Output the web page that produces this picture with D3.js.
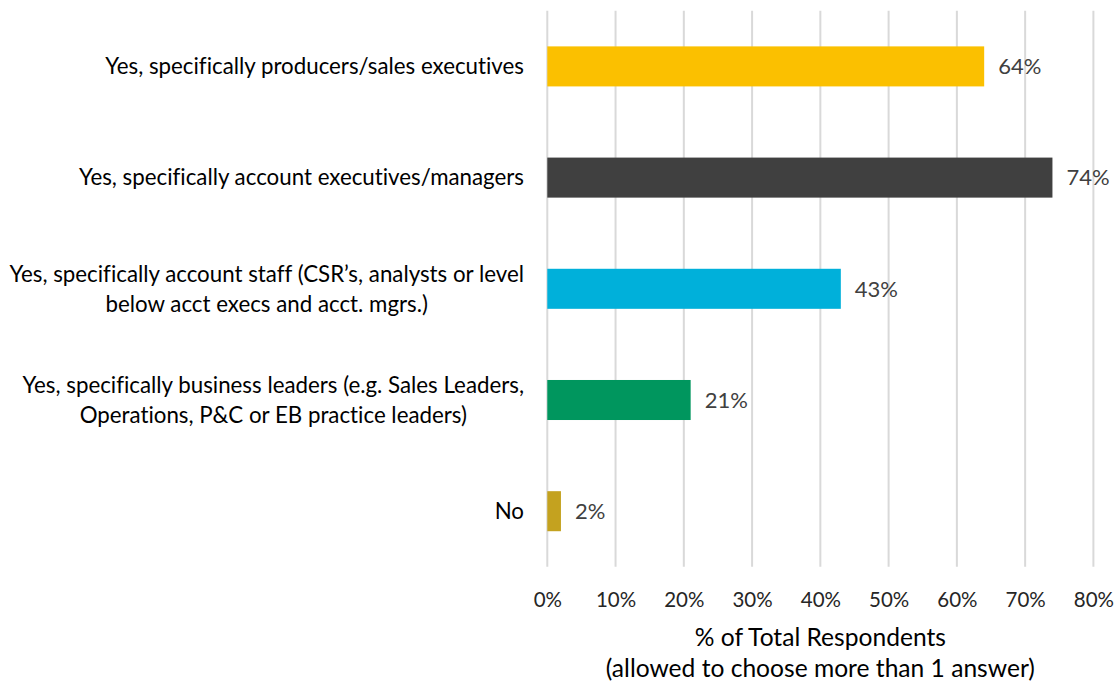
<!DOCTYPE html>
<html>
<head>
<meta charset="utf-8">
<script src="https://cdn.jsdelivr.net/npm/d3@7/dist/d3.min.js"></script>
<style>
  html, body { margin: 0; padding: 0; background: #fff; }
  svg { display: block; font-family: Lato, "Open Sans", sans-serif; font-variant-ligatures: none; }
</style>
</head>
<body>
<svg id="chart" width="1118" height="685"></svg>
<script>
// Survey answers, top to bottom
const categories = [
  ["Yes, specifically producers/sales executives"],
  ["Yes, specifically account executives/managers"],
  ["Yes, specifically account staff (CSR\u2019s, analysts or level", "below acct execs and acct. mgrs.)"],
  ["Yes, specifically business leaders (e.g. Sales Leaders,", "Operations, P&C or EB practice leaders)"],
  ["No"]
];
const values = [64, 74, 43, 21, 2];
const barColors = ["#FBC000", "#404040", "#00B0DA", "#00965E", "#C4A21F"];
const tickValues = [0, 10, 20, 30, 40, 50, 60, 70, 80];
const axisTitle = ["% of Total Respondents", "(allowed to choose more than 1 answer)"];

const svg = d3.select("#chart");
const plot = { left: 547.3, right: 1093.4, top: 10.8, bottom: 566.8 };

const x = d3.scaleLinear().domain([0, 80]).range([plot.left, plot.right]);
const y = d3.scaleBand()
  .domain(d3.range(values.length))
  .range([plot.top, plot.bottom])
  .paddingInner(0.64)
  .paddingOuter(0.32);

// Vertical gridlines
svg.append("g")
  .selectAll("line")
  .data(tickValues)
  .join("line")
  .attr("x1", d => x(d)).attr("x2", d => x(d))
  .attr("y1", plot.top).attr("y2", plot.bottom)
  .attr("stroke", "#D9D9D9")
  .attr("stroke-width", 2);

// Bars
svg.append("g")
  .selectAll("rect")
  .data(values)
  .join("rect")
  .attr("x", x(0))
  .attr("y", (d, i) => y(i))
  .attr("width", d => x(d) - x(0))
  .attr("height", y.bandwidth())
  .attr("fill", (d, i) => barColors[i]);

// Value labels
svg.append("g")
  .selectAll("text")
  .data(values)
  .join("text")
  .attr("x", d => x(d) + 14)
  .attr("y", (d, i) => y(i) + y.bandwidth() / 2)
  .attr("dy", "0.35em")
  .attr("font-size", 22)
  .attr("fill", "#404040")
  .text(d => d + "%");

// Category labels: each block centred on itself, right edge at 524
const catG = svg.append("g");
const lineH = 30;
categories.forEach((lines, i) => {
  const g = catG.append("g");
  const cy = y(i) + y.bandwidth() / 2;
  const texts = lines.map((t, k) =>
    g.append("text")
      .attr("y", cy + (k - (lines.length - 1) / 2) * lineH)
      .attr("dy", "0.35em")
      .attr("font-size", 22.3)
      .attr("fill", "#000")
      .attr("text-anchor", "middle")
      .text(t)
  );
  const w = d3.max(texts, t => t.node().getComputedTextLength());
  texts.forEach(t => t.attr("x", 524 - w / 2));
});

// X axis tick labels
const axis = d3.axisBottom(x)
  .tickValues(tickValues)
  .tickFormat(d => d + "%")
  .tickSize(0)
  .tickPadding(0);
const axG = svg.append("g")
  .attr("transform", `translate(0, ${600})`)
  .call(axis);
axG.select(".domain").remove();
axG.selectAll("text")
  .attr("font-size", 20.5)
  .attr("font-family", "Lato, 'Open Sans', sans-serif")
  .attr("fill", "#262626")
  .attr("dy", "0.35em")
  .attr("y", 0);

// Axis title
svg.append("g")
  .selectAll("text")
  .data(axisTitle)
  .join("text")
  .attr("x", (plot.left + plot.right) / 2)
  .attr("y", (d, i) => 637 + i * 31)
  .attr("dy", "0.35em")
  .attr("text-anchor", "middle")
  .attr("font-size", 24.6)
  .attr("fill", "#000")
  .text(d => d);
</script>
</body>
</html>
